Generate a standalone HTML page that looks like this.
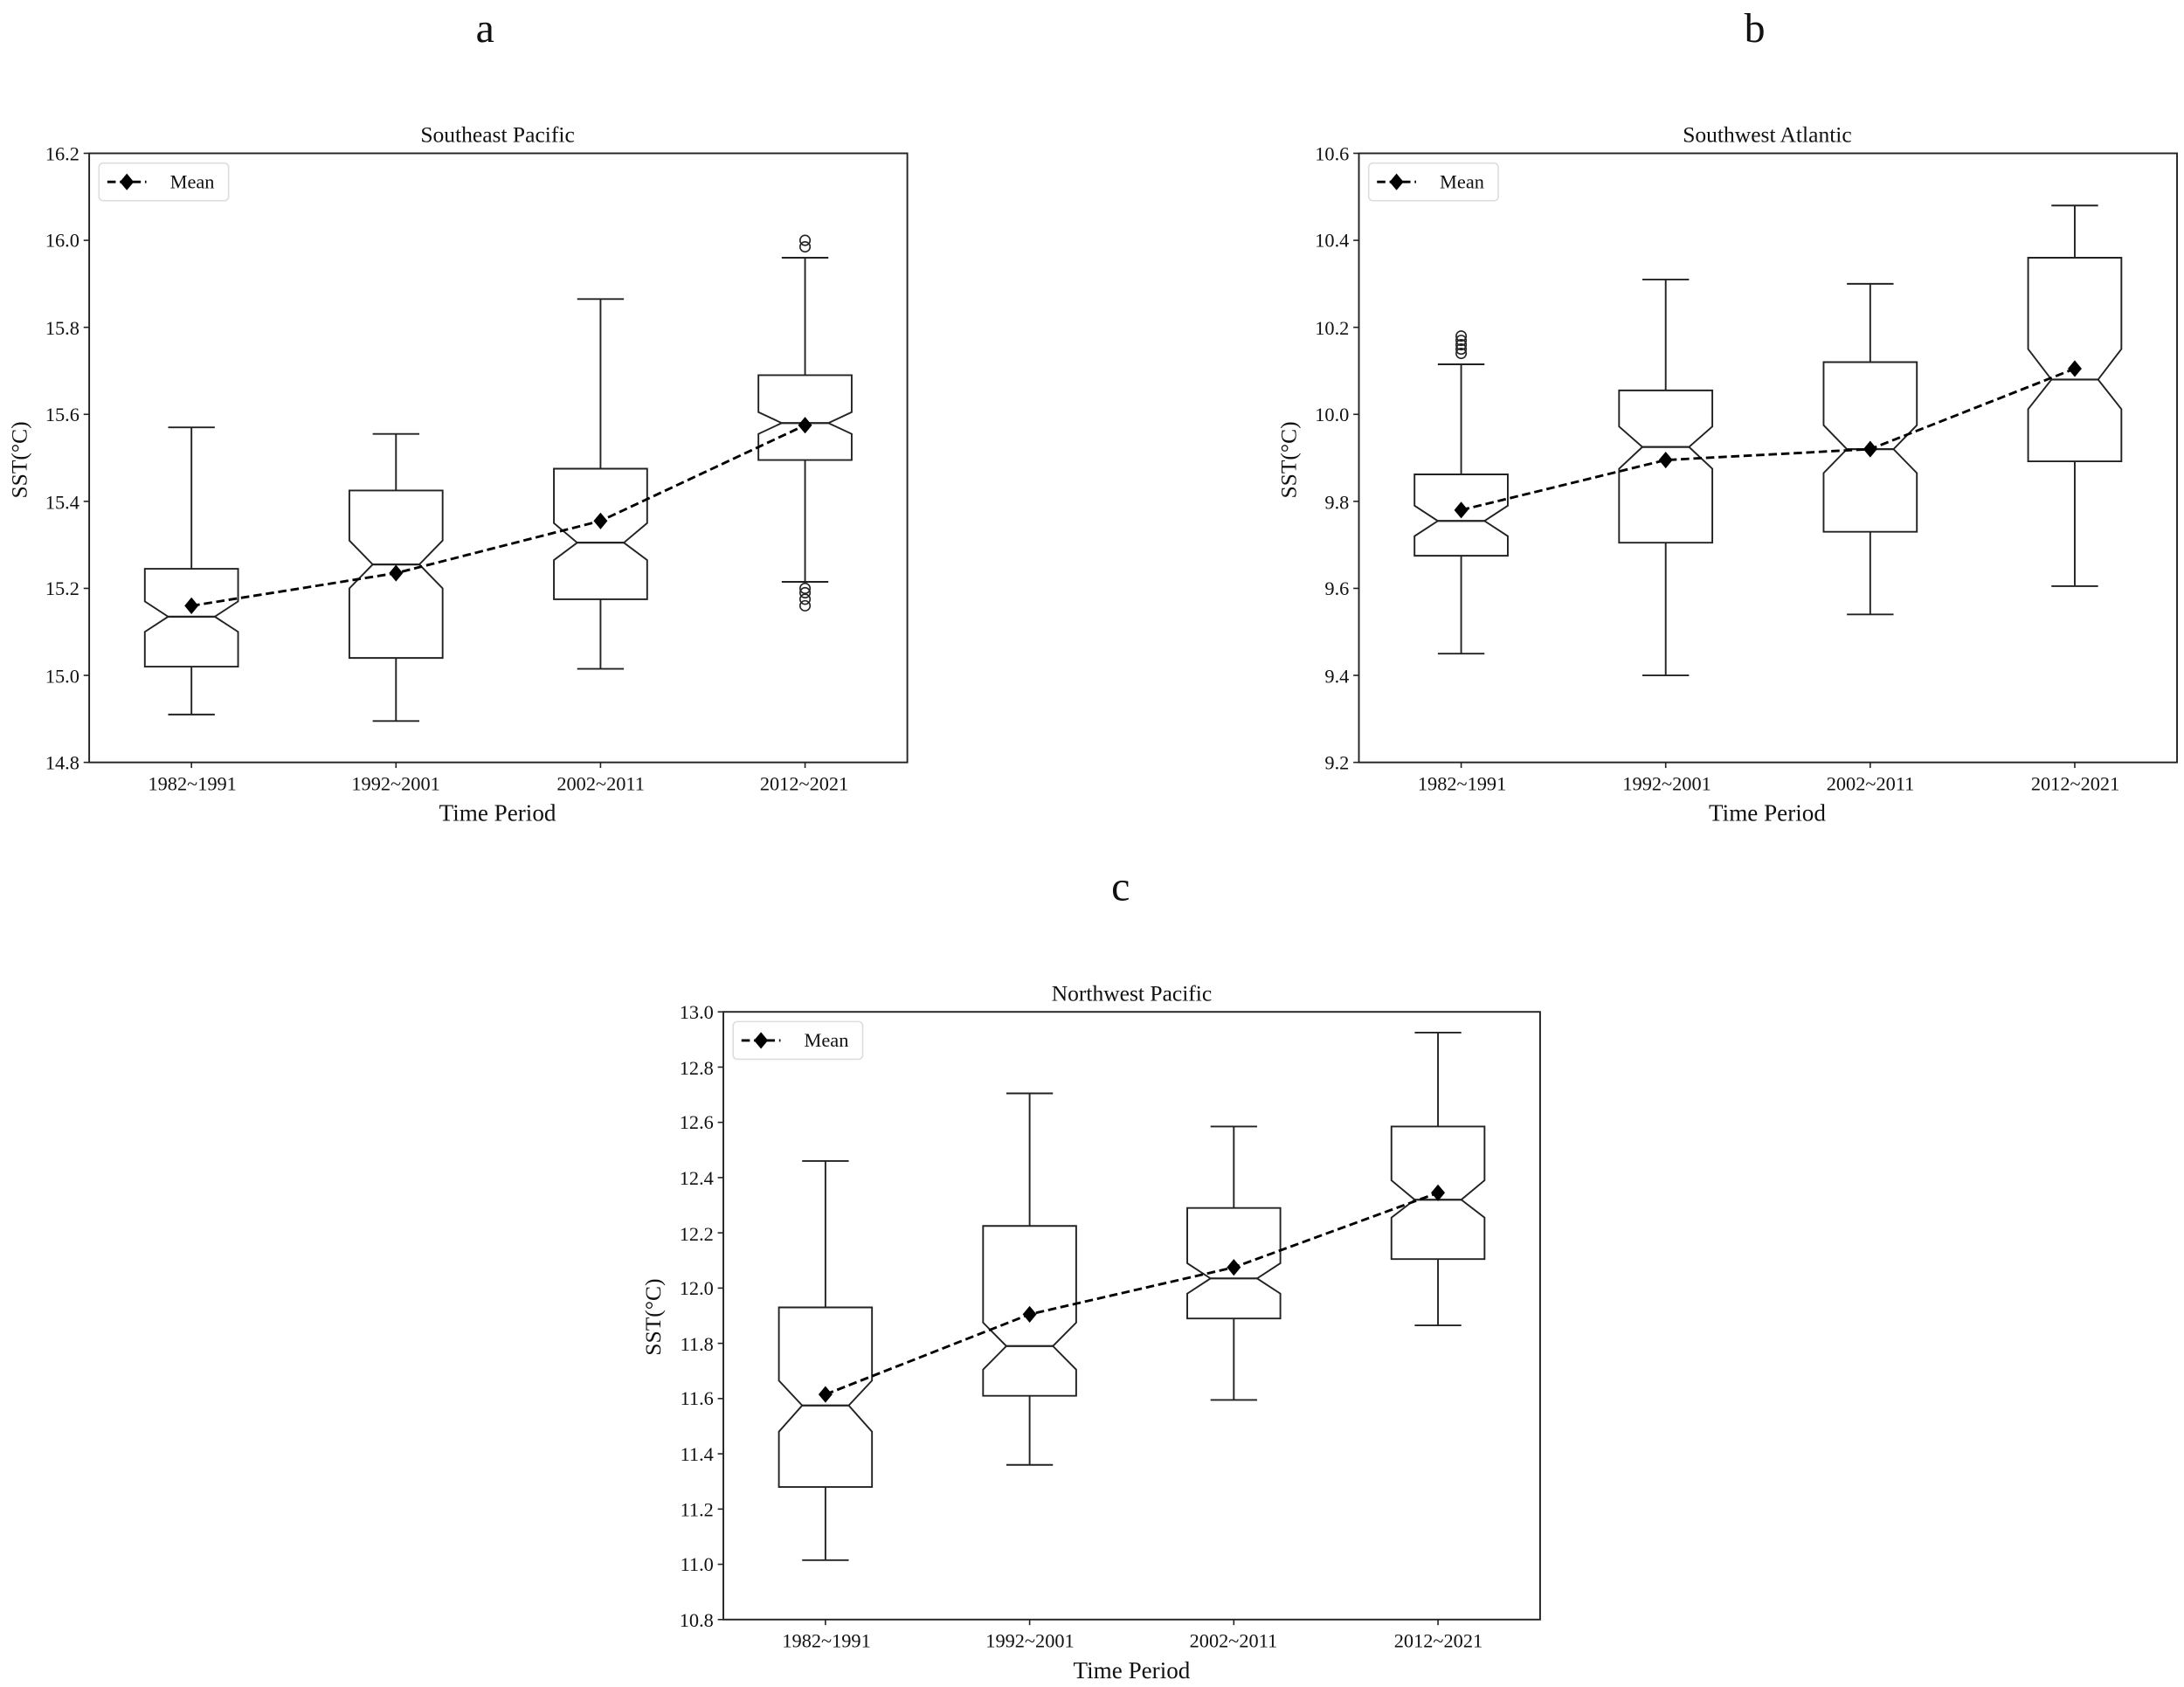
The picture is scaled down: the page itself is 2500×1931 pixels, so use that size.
<!DOCTYPE html>
<html><head><meta charset="utf-8"><style>
html,body{margin:0;padding:0;background:#fff;}
svg{display:block;}
text{font-family:"Liberation Serif",serif;fill:#111;}
</style></head><body>
<svg id="s" width="2500" height="1931" viewBox="0 0 1567 1210.4" preserveAspectRatio="none" xmlns="http://www.w3.org/2000/svg">
<rect width="1567" height="1210.4" fill="#fff"/>
<text x="348" y="30" font-size="30" text-anchor="middle">a</text>
<text x="1259" y="30" font-size="30" text-anchor="middle">b</text>
<text x="804" y="646" font-size="30" text-anchor="middle">c</text>

<text x="357" y="102" font-size="16" text-anchor="middle">Southeast Pacific</text>
<text x="1268" y="102" font-size="16" text-anchor="middle">Southwest Atlantic</text>
<text x="812" y="718" font-size="16" text-anchor="middle">Northwest Pacific</text>

<text x="357" y="589" font-size="17" text-anchor="middle">Time Period</text>
<text x="1268" y="589" font-size="17" text-anchor="middle">Time Period</text>
<text x="812" y="1204" font-size="17" text-anchor="middle">Time Period</text>

<text transform="translate(19,330) rotate(-90)" font-size="16" text-anchor="middle">SST(°C)</text>
<text transform="translate(930,330) rotate(-90)" font-size="16" text-anchor="middle">SST(°C)</text>
<text transform="translate(474,945) rotate(-90)" font-size="16" text-anchor="middle">SST(°C)</text>

<g font-size="14" text-anchor="end">
<text x="57" y="115">16.2</text><text x="57" y="177">16.0</text><text x="57" y="240">15.8</text><text x="57" y="302">15.6</text><text x="57" y="365">15.4</text><text x="57" y="427">15.2</text><text x="57" y="490">15.0</text><text x="57" y="552">14.8</text>
<text x="968" y="115">10.6</text><text x="968" y="177">10.4</text><text x="968" y="240">10.2</text><text x="968" y="302">10.0</text><text x="968" y="365">9.8</text><text x="968" y="427">9.6</text><text x="968" y="490">9.4</text><text x="968" y="552">9.2</text>
<text x="512" y="731">13.0</text><text x="512" y="771">12.8</text><text x="512" y="810">12.6</text><text x="512" y="850">12.4</text><text x="512" y="890">12.2</text><text x="512" y="929">12.0</text><text x="512" y="969">11.8</text><text x="512" y="1008">11.6</text><text x="512" y="1048">11.4</text><text x="512" y="1088">11.2</text><text x="512" y="1127">11.0</text><text x="512" y="1167">10.8</text>
</g>
<g font-size="14" text-anchor="middle">
<text x="138" y="567">1982~1991</text><text x="284" y="567">1992~2001</text><text x="431" y="567">2002~2011</text><text x="577" y="567">2012~2021</text>
<text x="1049" y="567">1982~1991</text><text x="1196" y="567">1992~2001</text><text x="1342" y="567">2002~2011</text><text x="1489" y="567">2012~2021</text>
<text x="593" y="1182">1982~1991</text><text x="739" y="1182">1992~2001</text><text x="885" y="1182">2002~2011</text><text x="1032" y="1182">2012~2021</text>
</g>
<g id="g"></g>
<g font-size="14">
<text x="122" y="135">Mean</text>
<text x="1033" y="135">Mean</text>
<text x="577" y="751">Mean</text>
</g>
</svg>
<script>
var NS="http://www.w3.org/2000/svg",g=document.getElementById('g');
function el(t,a){var e=document.createElementNS(NS,t);for(var k in a)e.setAttribute(k,a[k]);g.appendChild(e);return e;}
function panel(L,R,T,B,y0,y1,data){
  var Y=function(v){return B-(v-y0)/(y1-y0)*(B-T);};
  var w=R-L;
  for(var v=y0;v<=y1+1e-6;v+=0.2){var y=Y(v);el('line',{x1:L-4,x2:L,y1:y,y2:y,stroke:'#222','stroke-width':1});}
  var pts=[];
  data.forEach(function(d,i){
    var c=L+w*(i+0.5)/4, hw=w*0.057, nw=hw/2;
    el('line',{x1:c,x2:c,y1:B,y2:B+4,stroke:'#222','stroke-width':1});
    var st={stroke:'#222','stroke-width':1.2,fill:'none'};
    el('line',Object.assign({x1:c,x2:c,y1:Y(d[0]),y2:Y(d[2])},st));
    el('line',Object.assign({x1:c,x2:c,y1:Y(d[4]),y2:Y(d[1])},st));
    el('line',Object.assign({x1:c-hw/2,x2:c+hw/2,y1:Y(d[0]),y2:Y(d[0])},st));
    el('line',Object.assign({x1:c-hw/2,x2:c+hw/2,y1:Y(d[1]),y2:Y(d[1])},st));
    var p='M'+(c-hw)+','+Y(d[2])+'L'+(c+hw)+','+Y(d[2])+'L'+(c+hw)+','+Y(d[5])+'L'+(c+nw)+','+Y(d[3])+'L'+(c+hw)+','+Y(d[6])+'L'+(c+hw)+','+Y(d[4])+'L'+(c-hw)+','+Y(d[4])+'L'+(c-hw)+','+Y(d[6])+'L'+(c-nw)+','+Y(d[3])+'L'+(c-hw)+','+Y(d[5])+'Z';
    el('path',{d:p,stroke:'#222','stroke-width':1.2,fill:'#fff'});
    el('line',{x1:c-nw,x2:c+nw,y1:Y(d[3]),y2:Y(d[3]),stroke:'#222','stroke-width':1.4});
    (d[8]||[]).forEach(function(o){el('circle',{cx:c,cy:Y(o),r:3.6,stroke:'#222','stroke-width':1,fill:'none'});});
    pts.push([c,Y(d[7])]);
  });
  el('polyline',{points:pts.map(function(p){return p.join(',');}).join(' '),stroke:'#000','stroke-width':1.8,fill:'none','stroke-dasharray':'6,3'});
  pts.forEach(function(p){el('path',{d:'M'+p[0]+','+(p[1]-6)+'L'+(p[0]+5)+','+p[1]+'L'+p[0]+','+(p[1]+6)+'L'+(p[0]-5)+','+p[1]+'Z',fill:'#000'});});
  el('rect',{x:L,y:T,width:w,height:B-T,fill:'none',stroke:'#222','stroke-width':1.2});
  el('rect',{x:L+7,y:T+7,width:93,height:27,rx:3,fill:'#fff',stroke:'#ddd','stroke-width':1});
  el('line',{x1:L+13,x2:L+41,y1:T+20.5,y2:T+20.5,stroke:'#000','stroke-width':1.8,'stroke-dasharray':'6,3'});
  el('path',{d:'M'+(L+27)+','+(T+14.5)+'l5,6l-5,6l-5,-6z',fill:'#000'});
}
panel(64,651,110,547,14.8,16.2,[
 [14.91,15.57,15.02,15.135,15.245,15.10,15.17,15.16],
 [14.895,15.555,15.04,15.255,15.425,15.20,15.31,15.235],
 [15.015,15.865,15.175,15.305,15.475,15.265,15.35,15.355],
 [15.215,15.96,15.495,15.58,15.69,15.555,15.605,15.575,[15.985,16.0,15.2,15.19,15.175,15.16]]
]);
panel(975,1562,110,547,9.2,10.6,[
 [9.45,10.115,9.675,9.755,9.862,9.72,9.79,9.78,[10.14,10.15,10.16,10.17,10.18]],
 [9.40,10.31,9.705,9.925,10.055,9.875,9.972,9.895],
 [9.54,10.30,9.73,9.92,10.12,9.865,9.975,9.92],
 [9.605,10.48,9.892,10.08,10.36,10.012,10.15,10.105]
]);
panel(519,1105,726,1162,10.8,13.0,[
 [11.015,12.46,11.28,11.575,11.93,11.48,11.665,11.615],
 [11.36,12.705,11.61,11.79,12.225,11.705,11.875,11.905],
 [11.595,12.585,11.89,12.035,12.29,11.98,12.09,12.075],
 [11.865,12.925,12.105,12.32,12.585,12.255,12.39,12.345]
]);
</script>
</body></html>
